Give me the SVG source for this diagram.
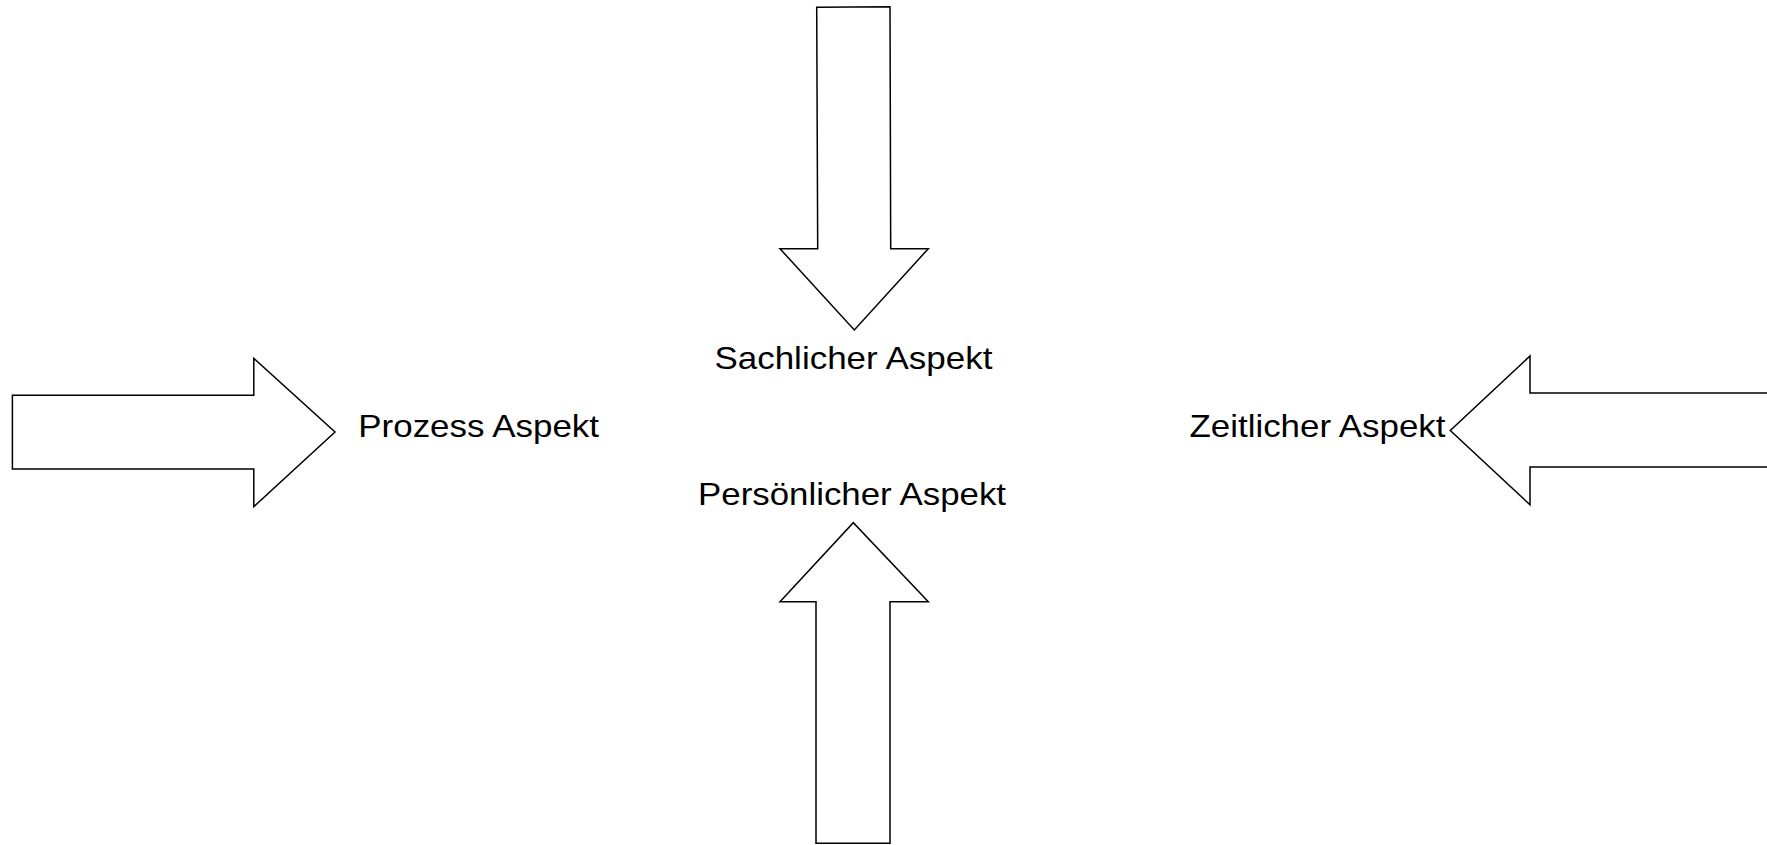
<svg xmlns="http://www.w3.org/2000/svg" width="1767" height="845" viewBox="0 0 1767 845">
<style>
.arrow{fill:#ffffff;stroke:#000000;stroke-width:1.5;stroke-linejoin:miter}
.lbl{font-family:"Liberation Sans",Arial,sans-serif;font-size:32px;fill:#000000}
</style>
<rect x="0" y="0" width="1767" height="845" fill="#ffffff"/>
<g id="connectors">
<g id="arrow-top"><polygon class="arrow" points="816.7,7.3 890,6.7 890.7,248.7 928.3,248.7 854.3,330 780,248.7 817.7,248.7"/></g>
<g id="arrow-bottom"><polygon class="arrow" points="816,843.3 890,843.3 890,601.7 928.3,601.7 853.3,522.7 780,601.7 816,601.7"/></g>
<g id="arrow-left"><polygon class="arrow" points="12.4,395.3 253.8,395.3 253.8,358.4 335,432 253.8,506.6 253.8,469 12.4,469"/></g>
<g id="arrow-right"><polygon class="arrow" points="1790,393 1530,393 1530,356 1450.3,430.5 1530,504.8 1530,467 1790,467"/></g>
</g>
<g id="node-sachlich"><text class="lbl" x="714.4" y="369.4" textLength="278" lengthAdjust="spacingAndGlyphs">Sachlicher Aspekt</text></g>
<g id="node-persoenlich"><text class="lbl" x="698" y="505" textLength="308" lengthAdjust="spacingAndGlyphs">Persönlicher Aspekt</text></g>
<g id="node-prozess"><text class="lbl" x="358.3" y="436.8" textLength="240.7" lengthAdjust="spacingAndGlyphs">Prozess Aspekt</text></g>
<g id="node-zeitlich"><text class="lbl" x="1189.5" y="436.8" textLength="256" lengthAdjust="spacingAndGlyphs">Zeitlicher Aspekt</text></g>
</svg>
